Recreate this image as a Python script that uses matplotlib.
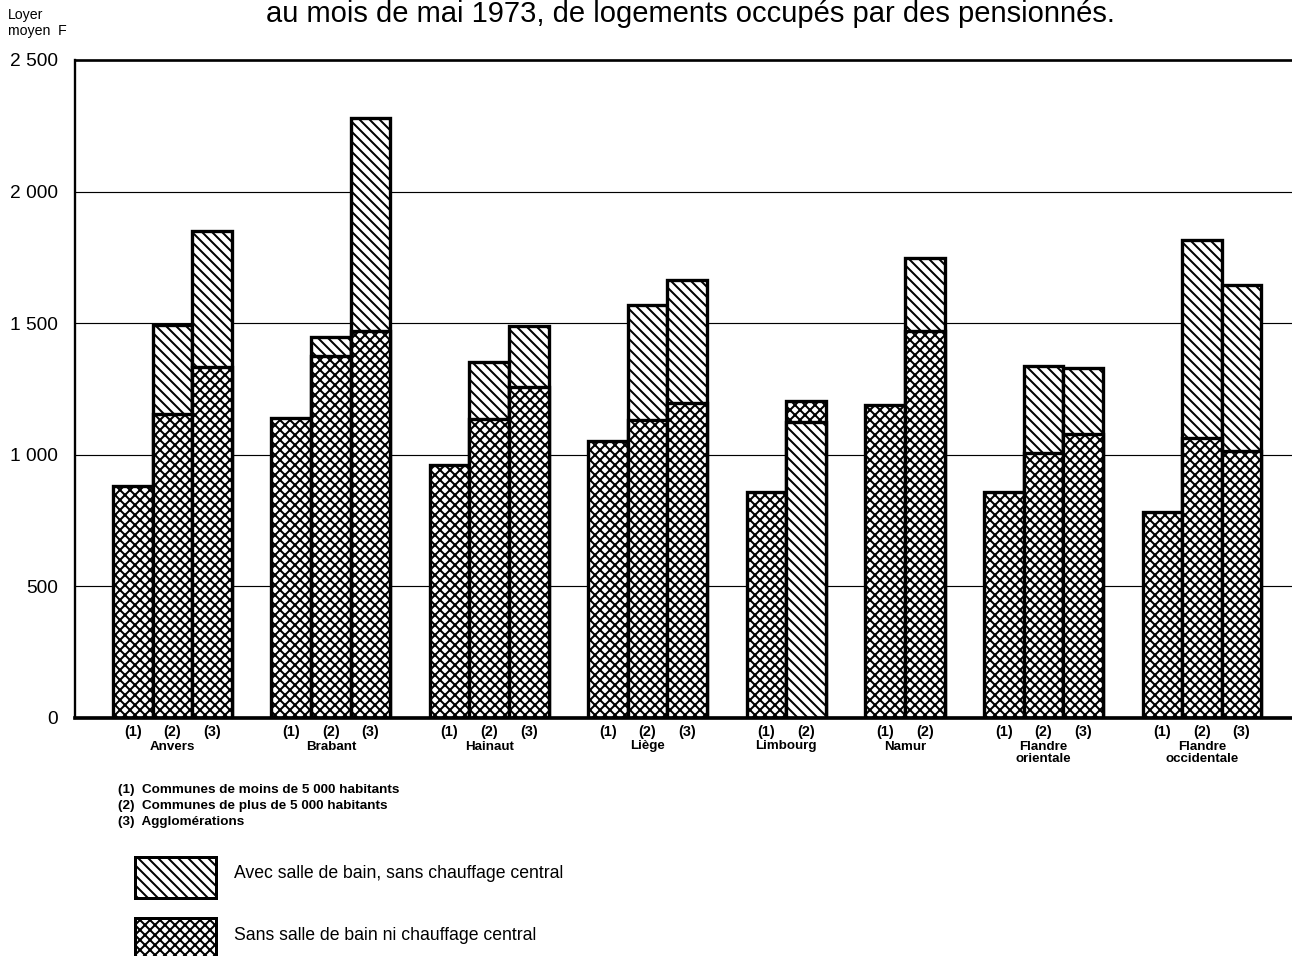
import matplotlib.pyplot as plt
from matplotlib import font_manager
from matplotlib.patches import Rectangle

W, H, DPI = 1292, 956, 120

REGIONS = ['Anvers', 'Brabant', 'Hainaut', 'Liège', 'Limbourg', 'Namur',
           'Flandre\norientale', 'Flandre\noccidentale']
COMMUNES = [['(1)', '(2)', '(3)'], ['(1)', '(2)', '(3)'], ['(1)', '(2)', '(3)'],
            ['(1)', '(2)', '(3)'], ['(1)', '(2)'], ['(1)', '(2)'],
            ['(1)', '(2)', '(3)'], ['(1)', '(2)', '(3)']]

# loyer moyen (F), une valeur par barre, dans l'ordre des communes
SANS_BAIN = [880, 1155, 1332, 1139, 1377, 1470, 961, 1135, 1258,
             1054, 1132, 1195, 857, 1205, 1190, 1469,
             858, 1005, 1079, 783, 1065, 1015]
AVEC_BAIN = [None, 1493, 1849, None, 1449, 2279, None, 1351, 1490,
             None, 1569, 1666, None, 1125, None, 1746,
             None, 1339, 1329, None, 1817, 1646]

Y_TICKS = [0, 500, 1000, 1500, 2000, 2500]
Y_LABELS = ['0', '500', '1 000', '1 500', '2 000', '2 500']

TITLE = 'au mois de mai 1973, de logements occupés par des pensionnés.'
NOTES = ['(1)  Communes de moins de 5 000 habitants',
         '(2)  Communes de plus de 5 000 habitants',
         '(3)  Agglomérations']
LEGEND = ['Avec salle de bain, sans chauffage central',
          'Sans salle de bain ni chauffage central']

# hatch spacing is 2/(6*n) inch, so 4 strokes gives ~10 px at 120 dpi
HATCH_AVEC = '\\\\\\\\'
HATCH_SANS = 'xxxx'

available = {f.name for f in font_manager.fontManager.ttflist}
NARROW = 'Liberation Sans Narrow' if 'Liberation Sans Narrow' in available else 'Liberation Sans'
REGULAR = 'Liberation Sans'


def fx(px):
    return px / W


def fy(px):
    return 1 - px / H


def bar_positions():
    positions, centers = [], []
    slot = 0
    for labels in COMMUNES:
        positions += list(range(slot, slot + len(labels)))
        centers.append(slot + len(labels) / 2)
        slot += len(labels) + 1
    return positions, centers


def draw_bars(ax):
    positions, centers = bar_positions()
    avec_idx = [i for i, v in enumerate(AVEC_BAIN) if v is not None]

    sans = ax.bar(positions, SANS_BAIN, width=1.0, align='edge', facecolor='white',
                  edgecolor='black', hatch=HATCH_SANS, linewidth=2.0)
    avec = ax.bar([positions[i] for i in avec_idx], [AVEC_BAIN[i] for i in avec_idx],
                  width=1.0, align='edge', facecolor='white', edgecolor='black',
                  hatch=HATCH_AVEC, linewidth=2.0)

    # the taller bar sits behind, the shorter one in front
    for patch in sans:
        patch.set_zorder(3)
    for k, i in enumerate(avec_idx):
        avec[k].set_zorder(2 if AVEC_BAIN[i] > SANS_BAIN[i] else 4)

    ax.set_xticks([p + 0.5 for p in positions])
    ax.set_xticklabels([lab for labels in COMMUNES for lab in labels],
                       fontfamily=NARROW, fontweight='bold', fontsize=8.6)
    ax.tick_params(axis='x', length=0, pad=4)

    for name, c in zip(REGIONS, centers):
        ax.annotate(name, xy=(c, 0), xycoords=('data', 'axes fraction'),
                    xytext=(0, -13.5), textcoords='offset points', ha='center', va='top',
                    fontfamily=NARROW, fontweight='bold', fontsize=8.0, linespacing=1.0)


def draw_axes(fig):
    ax = fig.add_axes([fx(75), fy(718), fx(W - 75), (718 - 60) / H])
    ax.set_xlim(-0.96, -0.96 + (W - 75) / 39.6)
    ax.set_ylim(0, 2500)
    ax.set_yticks(Y_TICKS)
    ax.set_yticklabels(Y_LABELS, fontfamily=REGULAR, fontsize=11.5)
    ax.tick_params(axis='y', length=0, pad=10)
    for y in Y_TICKS[1:-1]:
        ax.axhline(y, color='black', linewidth=0.7, zorder=1)

    ax.spines['right'].set_visible(False)
    ax.spines['left'].set_linewidth(1.4)
    ax.spines['top'].set_linewidth(1.6)
    ax.spines['bottom'].set_linewidth(2.2)
    ax.spines['bottom'].set_zorder(6)
    return ax


def draw_texts(fig):
    fig.text(fx(690), fy(14), TITLE, ha='center', va='center',
             fontfamily=REGULAR, fontsize=17.5)
    fig.text(fx(8), fy(15), 'Loyer', va='center', fontfamily=REGULAR, fontsize=8.5)
    fig.text(fx(8), fy(31), 'moyen  F', va='center', fontfamily=REGULAR, fontsize=8.5)

    for line, y in zip(NOTES, [790, 806, 822]):
        fig.text(fx(118), fy(y), line, va='center', fontfamily=NARROW,
                 fontweight='bold', fontsize=8.1)

    for label, hatch, top, y in zip(LEGEND, [HATCH_AVEC, HATCH_SANS], [857, 918], [874, 936]):
        box = Rectangle((fx(135), fy(top + 41)), 81 / W, 41 / H, transform=fig.transFigure,
                        facecolor='white', edgecolor='black', hatch=hatch, linewidth=1.8)
        fig.add_artist(box)
        fig.text(fx(234), fy(y), label, va='center', fontfamily=REGULAR, fontsize=10.6)


def main():
    plt.rcParams['hatch.linewidth'] = 1.2
    fig = plt.figure(figsize=(W / DPI, H / DPI), dpi=DPI)
    ax = draw_axes(fig)
    draw_bars(ax)
    draw_texts(fig)
    fig.savefig('out.png', dpi=DPI)


if __name__ == '__main__':
    main()
